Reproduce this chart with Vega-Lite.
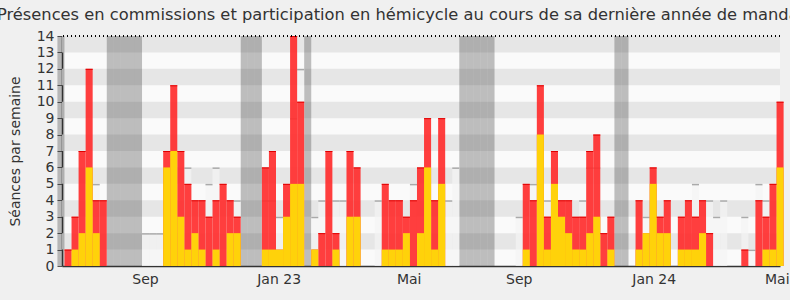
{
  "$schema": "https://vega.github.io/schema/vega-lite/v6.json",
  "autosize": {"type": "none"},
  "width": 718,
  "height": 230,
  "padding": {"left": 62, "top": 36, "right": 10, "bottom": 34},
  "background": "#f0f0f0",
  "config": {
    "font": "DejaVu Sans",
    "view": {"fill": "#fafafa", "stroke": null},
    "bar": {"binSpacing": 0},
    "axisY": {
      "tickCount": 20,
      "labelOverlap": false,
      "grid": false,
      "labelFontSize": 14,
      "labelColor": "#333333",
      "labelPadding": 3,
      "tickSize": 5,
      "tickColor": "#555555",
      "domainColor": "#333333",
      "domainWidth": 1.5,
      "titleFontSize": 14,
      "titleFontWeight": "normal",
      "titleColor": "#333333",
      "titlePadding": 14
    }
  },
  "title": {
    "text": "Présences en commissions et participation en hémicycle au cours de sa dernière année de mandat",
    "fontSize": 16.3,
    "fontWeight": "normal",
    "color": "#333333",
    "anchor": "middle",
    "offset": 6,
    "dx": -20
  },
  "datasets": {
    "weeks": [
      {"w": -1, "tot": 0, "com": 0, "med": 0, "vac": 1},
      {"w": 0, "tot": 1, "com": 0, "med": 0, "vac": 0},
      {"w": 1, "tot": 3, "com": 1, "med": 0, "vac": 0},
      {"w": 2, "tot": 7, "com": 2, "med": 0, "vac": 0},
      {"w": 3, "tot": 12, "com": 6, "med": 0, "vac": 0},
      {"w": 4, "tot": 4, "com": 2, "med": 5, "vac": 0},
      {"w": 5, "tot": 4, "com": 0, "med": 0, "vac": 0},
      {"w": 6, "tot": 0, "com": 0, "med": 0, "vac": 1},
      {"w": 7, "tot": 0, "com": 0, "med": 0, "vac": 1},
      {"w": 8, "tot": 0, "com": 0, "med": 0, "vac": 1},
      {"w": 9, "tot": 0, "com": 0, "med": 0, "vac": 1},
      {"w": 10, "tot": 0, "com": 0, "med": 0, "vac": 1},
      {"w": 11, "tot": 0, "com": 0, "med": 2, "vac": 0},
      {"w": 12, "tot": 0, "com": 0, "med": 2, "vac": 0},
      {"w": 13, "tot": 0, "com": 0, "med": 2, "vac": 0},
      {"w": 14, "tot": 7, "com": 6, "med": 0, "vac": 0},
      {"w": 15, "tot": 11, "com": 7, "med": 0, "vac": 0},
      {"w": 16, "tot": 7, "com": 3, "med": 0, "vac": 0},
      {"w": 17, "tot": 5, "com": 1, "med": 6, "vac": 0},
      {"w": 18, "tot": 4, "com": 2, "med": 0, "vac": 0},
      {"w": 19, "tot": 4, "com": 1, "med": 0, "vac": 0},
      {"w": 20, "tot": 3, "com": 0, "med": 5, "vac": 0},
      {"w": 21, "tot": 4, "com": 1, "med": 6, "vac": 0},
      {"w": 22, "tot": 5, "com": 0, "med": 0, "vac": 0},
      {"w": 23, "tot": 4, "com": 2, "med": 0, "vac": 0},
      {"w": 24, "tot": 3, "com": 2, "med": 4, "vac": 0},
      {"w": 25, "tot": 0, "com": 0, "med": 0, "vac": 1},
      {"w": 26, "tot": 0, "com": 0, "med": 0, "vac": 1},
      {"w": 27, "tot": 0, "com": 0, "med": 0, "vac": 1},
      {"w": 28, "tot": 6, "com": 1, "med": 4, "vac": 0},
      {"w": 29, "tot": 7, "com": 1, "med": 4, "vac": 0},
      {"w": 30, "tot": 1, "com": 1, "med": 3, "vac": 0},
      {"w": 31, "tot": 5, "com": 3, "med": 0, "vac": 0},
      {"w": 32, "tot": 14, "com": 5, "med": 9, "vac": 0},
      {"w": 33, "tot": 10, "com": 5, "med": 12, "vac": 0},
      {"w": 34, "tot": 0, "com": 0, "med": 0, "vac": 1},
      {"w": 35, "tot": 1, "com": 1, "med": 3, "vac": 0},
      {"w": 36, "tot": 2, "com": 0, "med": 4, "vac": 0},
      {"w": 37, "tot": 7, "com": 0, "med": 0, "vac": 0},
      {"w": 38, "tot": 2, "com": 1, "med": 4, "vac": 0},
      {"w": 39, "tot": 0, "com": 0, "med": 4, "vac": 0},
      {"w": 40, "tot": 7, "com": 3, "med": 0, "vac": 0},
      {"w": 41, "tot": 6, "com": 3, "med": 0, "vac": 0},
      {"w": 42, "tot": 0, "com": 0, "med": 0, "vac": 0},
      {"w": 43, "tot": 0, "com": 0, "med": 0, "vac": 0},
      {"w": 44, "tot": 0, "com": 0, "med": 4, "vac": 0},
      {"w": 45, "tot": 5, "com": 1, "med": 0, "vac": 0},
      {"w": 46, "tot": 4, "com": 1, "med": 0, "vac": 0},
      {"w": 47, "tot": 4, "com": 1, "med": 0, "vac": 0},
      {"w": 48, "tot": 3, "com": 2, "med": 0, "vac": 0},
      {"w": 49, "tot": 4, "com": 0, "med": 5, "vac": 0},
      {"w": 50, "tot": 6, "com": 2, "med": 0, "vac": 0},
      {"w": 51, "tot": 9, "com": 6, "med": 0, "vac": 0},
      {"w": 52, "tot": 4, "com": 1, "med": 0, "vac": 0},
      {"w": 53, "tot": 9, "com": 5, "med": 0, "vac": 0},
      {"w": 54, "tot": 0, "com": 0, "med": 4, "vac": 0},
      {"w": 55, "tot": 0, "com": 0, "med": 6, "vac": 0},
      {"w": 56, "tot": 0, "com": 0, "med": 0, "vac": 1},
      {"w": 57, "tot": 0, "com": 0, "med": 0, "vac": 1},
      {"w": 58, "tot": 0, "com": 0, "med": 0, "vac": 1},
      {"w": 59, "tot": 0, "com": 0, "med": 0, "vac": 1},
      {"w": 60, "tot": 0, "com": 0, "med": 0, "vac": 1},
      {"w": 61, "tot": 0, "com": 0, "med": 0, "vac": 0},
      {"w": 62, "tot": 0, "com": 0, "med": 0, "vac": 0},
      {"w": 63, "tot": 0, "com": 0, "med": 0, "vac": 0},
      {"w": 64, "tot": 0, "com": 0, "med": 3, "vac": 0},
      {"w": 65, "tot": 5, "com": 1, "med": 0, "vac": 0},
      {"w": 66, "tot": 4, "com": 0, "med": 5, "vac": 0},
      {"w": 67, "tot": 11, "com": 8, "med": 0, "vac": 0},
      {"w": 68, "tot": 3, "com": 1, "med": 4, "vac": 0},
      {"w": 69, "tot": 7, "com": 5, "med": 0, "vac": 0},
      {"w": 70, "tot": 4, "com": 3, "med": 0, "vac": 0},
      {"w": 71, "tot": 4, "com": 2, "med": 0, "vac": 0},
      {"w": 72, "tot": 3, "com": 1, "med": 0, "vac": 0},
      {"w": 73, "tot": 3, "com": 1, "med": 4, "vac": 0},
      {"w": 74, "tot": 7, "com": 2, "med": 6, "vac": 0},
      {"w": 75, "tot": 8, "com": 3, "med": 6, "vac": 0},
      {"w": 76, "tot": 2, "com": 0, "med": 0, "vac": 0},
      {"w": 77, "tot": 3, "com": 1, "med": 0, "vac": 0},
      {"w": 78, "tot": 0, "com": 0, "med": 0, "vac": 1},
      {"w": 79, "tot": 0, "com": 0, "med": 0, "vac": 1},
      {"w": 80, "tot": 0, "com": 0, "med": 0, "vac": 0},
      {"w": 81, "tot": 4, "com": 1, "med": 0, "vac": 0},
      {"w": 82, "tot": 2, "com": 2, "med": 3, "vac": 0},
      {"w": 83, "tot": 6, "com": 5, "med": 0, "vac": 0},
      {"w": 84, "tot": 3, "com": 2, "med": 0, "vac": 0},
      {"w": 85, "tot": 4, "com": 2, "med": 0, "vac": 0},
      {"w": 86, "tot": 0, "com": 0, "med": 0, "vac": 0},
      {"w": 87, "tot": 3, "com": 1, "med": 0, "vac": 0},
      {"w": 88, "tot": 4, "com": 1, "med": 0, "vac": 0},
      {"w": 89, "tot": 3, "com": 1, "med": 5, "vac": 0},
      {"w": 90, "tot": 4, "com": 2, "med": 0, "vac": 0},
      {"w": 91, "tot": 2, "com": 0, "med": 4, "vac": 0},
      {"w": 92, "tot": 0, "com": 0, "med": 3, "vac": 0},
      {"w": 93, "tot": 0, "com": 0, "med": 4, "vac": 0},
      {"w": 94, "tot": 0, "com": 0, "med": 0, "vac": 0},
      {"w": 95, "tot": 0, "com": 0, "med": 0, "vac": 0},
      {"w": 96, "tot": 1, "com": 0, "med": 3, "vac": 0},
      {"w": 97, "tot": 0, "com": 0, "med": 1, "vac": 0},
      {"w": 98, "tot": 4, "com": 0, "med": 5, "vac": 0},
      {"w": 99, "tot": 3, "com": 1, "med": 4, "vac": 0},
      {"w": 100, "tot": 5, "com": 1, "med": 0, "vac": 0},
      {"w": 101, "tot": 10, "com": 6, "med": 0, "vac": 0}
    ],
    "stripes": [
      {"a": 1, "b": 2}, {"a": 3, "b": 4}, {"a": 5, "b": 6}, {"a": 7, "b": 8},
      {"a": 9, "b": 10}, {"a": 11, "b": 12}, {"a": 13, "b": 14}
    ]
  },
  "data": {"name": "weeks"},
  "layer": [
    {
      "data": {"name": "stripes"},
      "mark": {"type": "rect", "fill": "#e6e6e6", "opacity": 1},
      "encoding": {
        "y": {
          "field": "a",
          "type": "quantitative",
          "scale": {"domain": [0, 14], "nice": false},
          "axis": {
            "title": "Séances par semaine",
            "values": [0, 1, 2, 3, 4, 5, 6, 7, 8, 9, 10, 11, 12, 13, 14],
            "tickCount": 20,
            "format": "d",
            "labelOverlap": false,
            "labelFontSize": 14,
            "titleFontSize": 14
          }
        },
        "y2": {"field": "b"}
      }
    },
    {
      "encoding": {
        "x": {
          "field": "w",
          "type": "quantitative",
          "bin": {"step": 1, "extent": [-1, 102]},
          "scale": {"domain": [-0.28, 101.56], "nice": false, "zero": false},
          "axis": {
            "title": null,
            "values": [11.5, 30.45, 48.9, 64.5, 83.65, 101.1],
            "tickCount": 10,
            "labelExpr": "datum.value < 20 ? 'Sep' : datum.value < 40 ? 'Jan 23' : datum.value < 55 ? 'Mai' : datum.value < 70 ? 'Sep' : datum.value < 90 ? 'Jan 24' : 'Mai'",
            "ticks": false,
            "grid": false,
            "labelFlush": false,
            "labelOverlap": false,
            "labelFontSize": 14,
            "labelColor": "#333333",
            "labelPadding": 6,
            "domainColor": "#333333",
            "domainWidth": 1.5
          }
        }
      },
      "layer": [
        {
          "transform": [{"filter": "datum.vac == 1"}],
          "mark": {"type": "bar", "color": "#333333", "opacity": 0.3},
          "encoding": {
            "y": {"datum": 14, "type": "quantitative"},
            "y2": {"datum": 0}
          }
        },
        {
          "transform": [{"filter": "datum.med > 0"}],
          "mark": {"type": "bar", "color": "#f3f3f3", "opacity": 0.7},
          "encoding": {
            "y": {"field": "med", "type": "quantitative"},
            "y2": {"datum": 0}
          }
        },
        {
          "transform": [{"filter": "datum.med > 0"}],
          "mark": {"type": "bar", "color": "#aaaaaa", "y2Offset": 1.5},
          "encoding": {
            "y": {"field": "med", "type": "quantitative"},
            "y2": {"field": "med"}
          }
        },
        {
          "transform": [{"filter": "datum.tot > 0"}],
          "mark": {"type": "bar", "color": "#ff2e2e", "opacity": 0.92},
          "encoding": {
            "y": {"field": "tot", "type": "quantitative"},
            "y2": {"datum": 0}
          }
        },
        {
          "transform": [{"filter": "datum.com > 0"}],
          "mark": {"type": "bar", "color": "#ffd20a"},
          "encoding": {
            "y": {"field": "com", "type": "quantitative"},
            "y2": {"datum": 0}
          }
        },
        {
          "transform": [{"filter": "datum.tot > datum.com"}],
          "mark": {"type": "bar", "color": "#e00000", "y2Offset": 1},
          "encoding": {
            "y": {"field": "tot", "type": "quantitative"},
            "y2": {"field": "tot"}
          }
        }
      ]
    },
    {
      "mark": {"type": "rule", "color": "#000000", "strokeDash": [1, 3], "strokeWidth": 1},
      "encoding": {
        "y": {"datum": 14, "type": "quantitative"}
      }
    }
  ]
}
